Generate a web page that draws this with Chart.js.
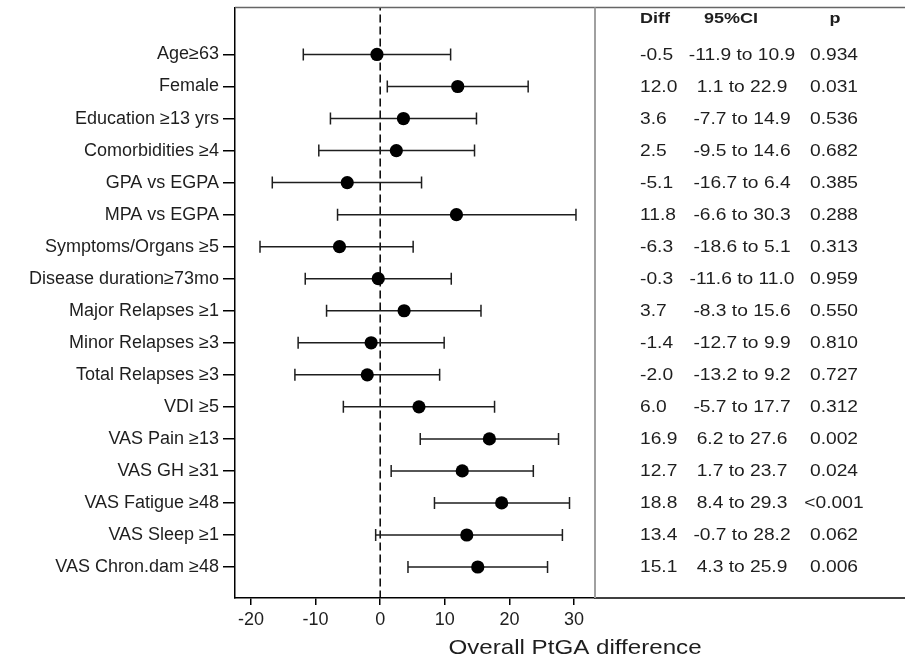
<!DOCTYPE html>
<html>
<head>
<meta charset="utf-8">
<script src="https://cdn.jsdelivr.net/npm/chart.js@4/dist/chart.umd.min.js"></script>
<style>
  body { margin: 0; background: #fff; }
  #wrap { width: 905px; height: 663px; }
</style>
</head>
<body>
<div id="wrap"><canvas id="forest" width="905" height="663"></canvas></div>
<script>
const labels = ['Age≥63', 'Female', 'Education ≥13 yrs', 'Comorbidities ≥4', 'GPA vs EGPA', 'MPA vs EGPA',
    'Symptoms/Organs ≥5', 'Disease duration≥73mo', 'Major Relapses ≥1', 'Minor Relapses ≥3',
    'Total Relapses ≥3', 'VDI ≥5', 'VAS Pain ≥13', 'VAS GH ≥31', 'VAS Fatigue ≥48', 'VAS Sleep ≥1',
    'VAS Chron.dam ≥48']
const diffs = [-0.5, 12.0, 3.6, 2.5, -5.1, 11.8, -6.3, -0.3, 3.7, -1.4, -2.0, 6.0, 16.9, 12.7, 18.8, 13.4, 15.1]
const ciLow = [-11.9, 1.1, -7.7, -9.5, -16.7, -6.6, -18.6, -11.6, -8.3, -12.7, -13.2, -5.7, 6.2, 1.7, 8.4, -0.7, 4.3]
const ciHigh = [10.9, 22.9, 14.9, 14.6, 6.4, 30.3, 5.1, 11.0, 15.6, 9.9, 9.2, 17.7, 27.6, 23.7, 29.3, 28.2, 25.9]
const pValues = ['0.934', '0.031', '0.536', '0.682', '0.385', '0.288', '0.313', '0.959', '0.550', '0.810',
    '0.727', '0.312', '0.002', '0.024', '<0.001', '0.062', '0.006']
const xTicks = [-20, -10, 0, 10, 20, 30]

const FONT = "'Liberation Sans', Arial, sans-serif"
const INK = '#1e1e1e'

// one line dataset per row for the confidence interval
let datasets = []
datasets.push({
    type: 'scatter',
    data: diffs.map((d, i) => ({x: d, y: i})),
    pointRadius: 6.6,
    pointBackgroundColor: '#000',
    pointBorderWidth: 0,
    order: 0
})
datasets.push({
    type: 'scatter',
    data: ciLow.map((v, i) => ({x: v, y: i})).concat(ciHigh.map((v, i) => ({x: v, y: i}))),
    pointStyle: 'line',
    rotation: 90,
    pointRadius: 6,
    pointBorderColor: INK,
    pointBorderWidth: 1.5,
    order: 1
})
labels.forEach((lab, i) => {
    datasets.push({
        type: 'line',
        data: [{x: ciLow[i], y: i}, {x: ciHigh[i], y: i}],
        borderColor: INK,
        borderWidth: 1.5,
        pointRadius: 0,
        order: 2
    })
})
datasets.push({
    type: 'line',
    data: [{x: 0, y: -2}, {x: 0, y: 18}],
    borderColor: '#000',
    borderWidth: 1.5,
    borderDash: [8, 4],
    pointRadius: 0,
    order: 3
})

// frame lines, divider and the right-hand table
const tablePlugin = {
    id: 'tablePlugin',
    afterDraw(chart) {
        const ctx = chart.ctx
        const area = chart.chartArea
        const yScale = chart.scales.y
        const W = chart.width
        ctx.save()
        ctx.lineWidth = 1.5
        ctx.strokeStyle = '#666'
        ctx.beginPath()
        ctx.moveTo(area.left, area.top)
        ctx.lineTo(W, area.top)
        ctx.stroke()
        ctx.strokeStyle = '#000'
        ctx.beginPath()
        ctx.moveTo(area.right, area.bottom)
        ctx.lineTo(W, area.bottom)
        ctx.stroke()
        ctx.strokeStyle = '#a0a0a0'
        ctx.lineWidth = 2
        ctx.beginPath()
        ctx.moveTo(area.right + 1, area.top)
        ctx.lineTo(area.right + 1, area.bottom)
        ctx.stroke()

        function txt(s, x, y, align, size, bold, stretch) {
            ctx.save()
            ctx.translate(x, y)
            ctx.scale(stretch, 1)
            ctx.font = (bold ? 'bold ' : '') + size + 'px ' + FONT
            ctx.textAlign = align
            ctx.textBaseline = 'middle'
            ctx.fillStyle = INK
            ctx.fillText(s, 0, 0)
            ctx.restore()
        }
        txt('Diff', 640, 19, 'left', 15, true, 1.2)
        txt('95%CI', 731, 19, 'center', 15, true, 1.2)
        txt('p', 835, 19, 'center', 15, true, 1.2)
        labels.forEach((lab, i) => {
            const y = yScale.getPixelForValue(i) + 1
            txt(diffs[i].toFixed(1), 640, y, 'left', 16, false, 1.2)
            txt(ciLow[i].toFixed(1) + ' to ' + ciHigh[i].toFixed(1), 742, y, 'center', 16, false, 1.2)
            txt(pValues[i], 834, y, 'center', 16, false, 1.2)
        })
        txt('Overall PtGA difference', 575, 648, 'center', 21, false, 1.15)
        ctx.restore()
    }
}

const forestChart = new Chart(document.getElementById('forest'), {
    type: 'scatter',
    data: {datasets: datasets},
    options: {
        responsive: false,
        animation: false,
        events: [],
        layout: {padding: {top: 7, right: 311, left: 0, bottom: 0}},
        plugins: {legend: {display: false}, tooltip: {enabled: false}},
        scales: {
            x: {
                type: 'linear',
                min: -22.47,
                max: 33.09,
                afterBuildTicks: (scale) => { scale.ticks = xTicks.map(v => ({value: v})) },
                afterFit: (scale) => { scale.height = 65; scale.paddingLeft = 0; scale.paddingRight = 0 },
                grid: {drawOnChartArea: false, drawTicks: true, tickLength: 7, color: '#000', lineWidth: 1.5},
                border: {display: true, color: '#000', width: 1.5},
                ticks: {color: INK, padding: 4, font: {family: FONT, size: 18}}
            },
            y: {
                type: 'linear',
                reverse: true,
                min: -1.466,
                max: 16.967,
                afterBuildTicks: (scale) => { scale.ticks = labels.map((l, i) => ({value: i})) },
                afterFit: (scale) => { scale.width = 235; scale.paddingTop = 0; scale.paddingBottom = 0 },
                grid: {drawOnChartArea: false, drawTicks: true, tickLength: 12, color: '#000', lineWidth: 1.5},
                border: {display: true, color: '#000', width: 1.5},
                ticks: {
                    color: INK,
                    padding: 4,
                    font: {family: FONT, size: 18},
                    callback: (v) => labels[v]
                }
            }
        }
    },
    plugins: [tablePlugin]
})
</script>
</body>
</html>
